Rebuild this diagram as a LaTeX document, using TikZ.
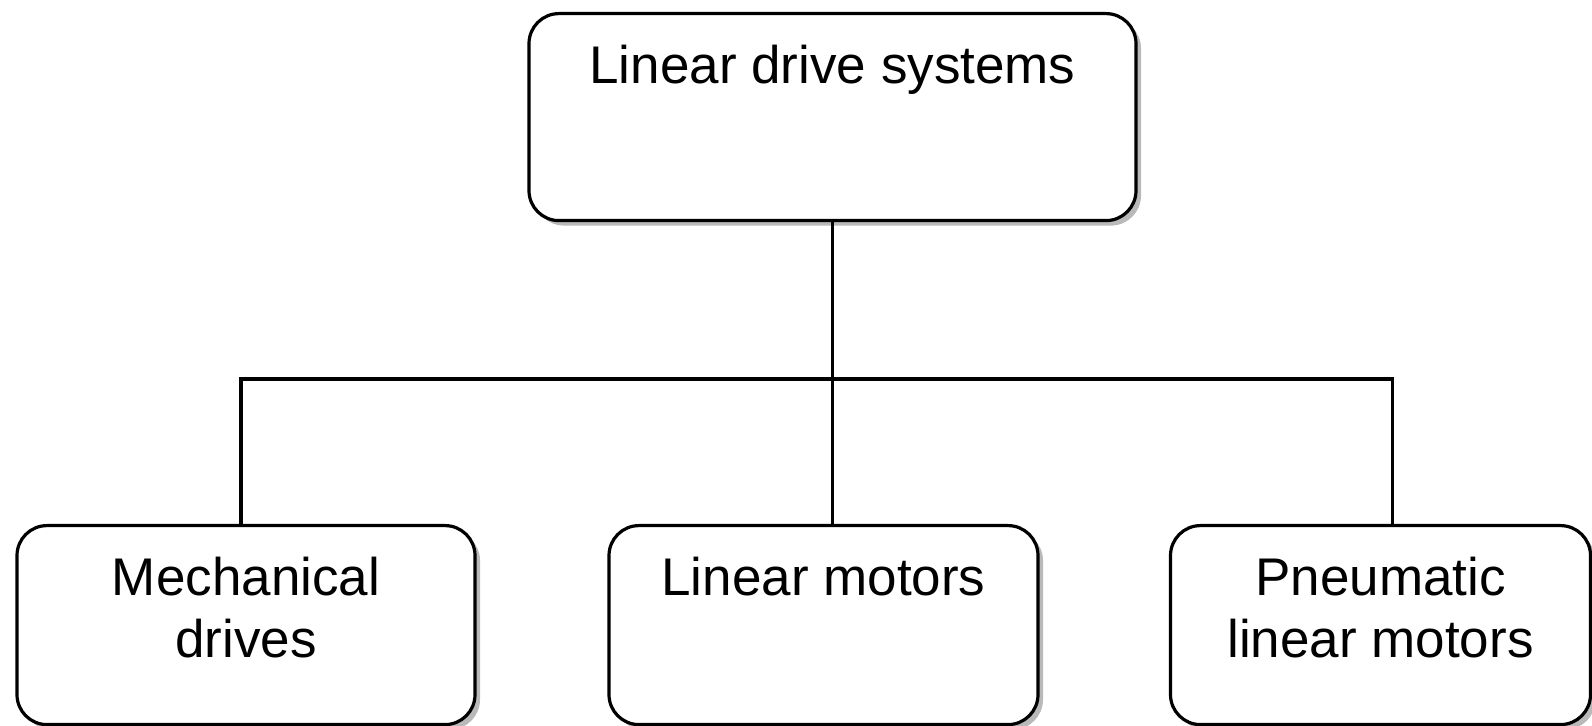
\documentclass[tikz,border=0pt]{standalone}
\usepackage{fontspec}
\setmainfont{Liberation Sans}
\usetikzlibrary{shadows}

\tikzset{
  box/.style={draw,line width=1.6pt,rounded corners=15pt,fill=white,
    anchor=north,align=center,inner xsep=4pt,inner ysep=0pt,
    font=\fontsize{26.5}{31}\selectfont,
    drop shadow={shadow xshift=2.5pt,shadow yshift=-2.5pt,fill=black!55}},
  % one line of text, or two lines (baseline sits on the last line)
  oneline/.style={text height=35pt,text depth=#1},
  twoline/.style={text height=66pt,text depth=#1},
  link/.style={line width=1.6pt}
}

\begin{document}
\begin{tikzpicture}[x=0.5pt,y=-0.5pt]
\useasboundingbox (0,0) rectangle (1592,726);
% The boxes
\node[box,oneline=68.5pt,minimum width=303.5pt] (sys) at (832.5,12) {Linear drive systems};
\node[box,twoline=33.5pt,minimum width=229pt] (mech) at (246,524) {Mechanical\\drives};
\node[box,oneline=64.5pt,minimum width=214.5pt] (lmot) at (823.5,524) {Linear motors};
\node[box,twoline=33.5pt,minimum width=210pt] (pneu) at (1380.5,524) {Pneumatic\\linear motors};

% The connectors
\coordinate (bar) at (0,379);
\coordinate (mtop) at ([xshift=-2.5pt]mech.north);
\coordinate (ptop) at ([xshift=6pt]pneu.north);
\draw[link] (sys.south) -- (sys.south |- lmot.north);
\draw[link] (mtop) -- (mtop |- bar) -- (ptop |- bar) -- (ptop);

\end{tikzpicture}
\end{document}
